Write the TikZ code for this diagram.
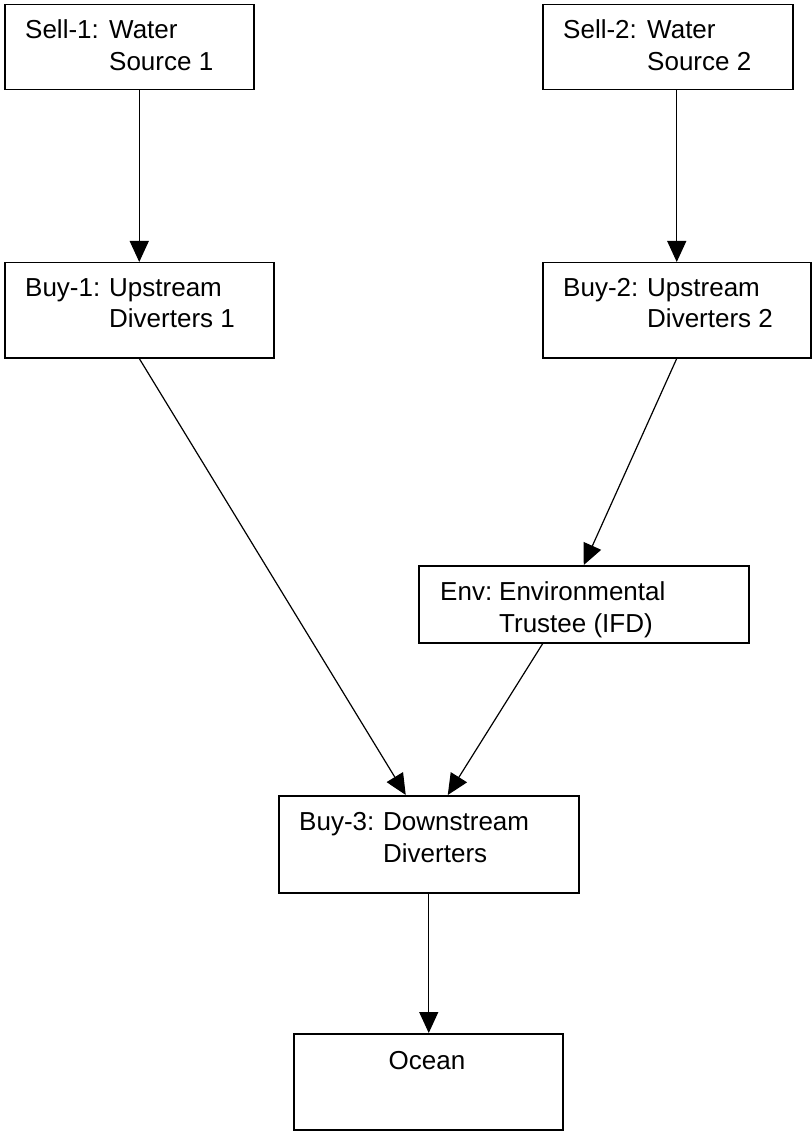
\documentclass[tikz,border=0pt]{standalone}
\usepackage{fontspec}
\setmainfont{Liberation Sans}
\usetikzlibrary{arrows.meta}

\tikzset{
  box/.style={draw, rectangle, line width=1.5pt, inner sep=0pt, anchor=north west},
  boxtext/.style={inner sep=0pt, anchor=base west, font=\fontsize{26}{32}\selectfont},
  flow/.style={line width=1.2pt}
}

\begin{document}
\begin{tikzpicture}[x=1pt, y=-1pt, >={Triangle[length=21pt,width=19pt]}]
\useasboundingbox (0,0) rectangle (811,1131);

\node[box, minimum width=249pt, minimum height=85pt] (sell1) at (4, 4)    {};
\node[box, minimum width=250pt, minimum height=85pt] (sell2) at (542, 4)  {};
\node[box, minimum width=269pt, minimum height=95pt] (buy1)  at (4, 262)  {};
\node[box, minimum width=268pt, minimum height=95pt] (buy2)  at (542, 262) {};
\node[box, minimum width=330pt, minimum height=77pt] (env)   at (418, 565) {};
\node[box, minimum width=300pt, minimum height=97pt] (buy3)  at (278, 795) {};
\node[box, minimum width=269pt, minimum height=96pt] (ocean) at (293, 1033) {};

\node[boxtext] (sell1txt) at (25, 39)   {\begin{tabular}[t]{@{}p{84pt}@{}l@{}}Sell-1: & Water\\ & Source 1\end{tabular}};
\node[boxtext] (sell2txt) at (563, 39)  {\begin{tabular}[t]{@{}p{84pt}@{}l@{}}Sell-2: & Water\\ & Source 2\end{tabular}};
\node[boxtext] (buy1txt)  at (25, 296)  {\begin{tabular}[t]{@{}p{84pt}@{}l@{}}Buy-1: & Upstream\\ & Diverters 1\end{tabular}};
\node[boxtext] (buy2txt)  at (563, 296) {\begin{tabular}[t]{@{}p{84pt}@{}l@{}}Buy-2: & Upstream\\ & Diverters 2\end{tabular}};
\node[boxtext] (envtxt)   at (440, 600) {\begin{tabular}[t]{@{}p{59pt}@{}l@{}}Env: & Environmental\\ & Trustee (IFD)\end{tabular}};
\node[boxtext] (buy3txt)  at (299, 830) {\begin{tabular}[t]{@{}p{84pt}@{}l@{}}Buy-3: & Downstream\\ & Diverters\end{tabular}};
\node[boxtext, anchor=base] (oceantxt) at (427, 1069) {Ocean};

\path[->, flow] (buy1.north |- sell1.south) edge (buy1.north);
\path[->, flow] (buy2.north |- sell2.south) edge (buy2.north);
\path[->, flow] (buy1.south) edge ([xshift=-23pt]buy3.north);
\path[->, flow] (buy2.south) edge (env.north);
\path[->, flow] ([xshift=-41pt]env.south) edge ([xshift=19pt]buy3.north);
\path[->, flow] (buy3.south) edge (buy3.south |- ocean.north);
\end{tikzpicture}
\end{document}
